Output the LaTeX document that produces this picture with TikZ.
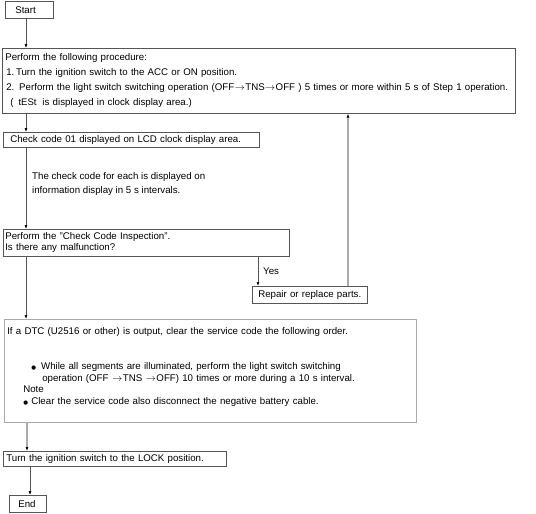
\documentclass[tikz,border=0pt]{standalone}
\usepackage{fontspec}
\setmainfont{Liberation Sans}
\newfontfamily\symfont{DejaVu Sans}
\usetikzlibrary{arrows.meta}
\definecolor{boxline}{HTML}{555555}
\definecolor{lightline}{HTML}{AAAAAA}
\newcommand{\bigdot}{{\symfont\fontsize{5.5}{6}\selectfont\raisebox{0.6pt}{●}}}
\newcommand{\rarr}{\kern0.5pt$\rightarrow$\kern0.5pt}
\tikzset{
  box/.style={draw=boxline, line width=0.6pt, rectangle, anchor=north west, inner xsep=0pt, inner ysep=0pt, align=left, font=\fontsize{9.7}{11}\selectfont},
  lbl/.style={inner sep=0pt, align=left, font=\fontsize{9.7}{13.3}\selectfont},
  arr/.style={draw=boxline, line width=0.6pt, -{Latex[length=4pt,width=3pt,color=black]}},
  grayarr/.style={draw=lightline, line width=1.2pt, -{Latex[length=4pt,width=3pt,color=black]}}
}
\begin{document}
\begin{tikzpicture}[x=1pt,y=-1pt]
\useasboundingbox (0,0) rectangle (536,514);
\node[box, minimum width=48pt, minimum height=17pt, text width=48pt] (start) at (5,1) {\hspace*{10pt}Start};
\node[box, minimum width=513pt, minimum height=65pt, text width=511pt, font=\fontsize{9.7}{15}\selectfont] (proc) at (2,48)
 {\hspace*{2pt}Perform the following procedure:\\
  \hspace*{3pt}1.\,Turn the ignition switch to the ACC or ON position.\\
  \hspace*{3pt}2. Perform the light switch switching operation (OFF\rarr TNS\rarr OFF ) 5 times or more within 5 s of Step 1 operation.\\
  \hspace*{7pt}(\hspace{5pt}{\fontsize{9.5}{9}\selectfont tESt}\hspace{6pt}is displayed in clock display area.)};
\node[box, minimum width=256pt, minimum height=15pt, text width=256pt] (check) at (3,132)
 {\hspace*{7pt}Check code 01 displayed on LCD clock display area.};
\node[lbl, anchor=north west] (info) at (32,172.5)
 {The check code for each is displayed on\\information display in 5 s intervals.};
\node[box, minimum width=286pt, minimum height=27pt, text width=286pt] (cci) at (3,229)
 {\hspace*{2pt}Perform the "Check Code Inspection".\\\hspace*{2pt}Is there any malfunction?\\[-9pt]\mbox{}};
\node[box, minimum width=115pt, minimum height=17pt, text width=115pt] (repair) at (252,286)
 {\hspace*{6pt}Repair or replace parts.};
\node[box, draw=lightline, minimum width=412pt, minimum height=103pt, text width=412pt, font=\fontsize{9.7}{12}\selectfont] (dtc) at (4,319)
 {\hspace*{3pt}If a DTC (U2516 or other) is output, clear the service code the following order.\\[23pt]
  \hspace*{27pt}\bigdot\hspace{5pt}While all segments are illuminated, perform the light switch switching\\
  \hspace*{38pt}operation (OFF \rarr TNS \rarr OFF) 10 times or more during a 10 s interval.\\[-1pt]
  \hspace*{19pt}Note\\
  \hspace*{19pt}\bigdot\ Clear the service code also disconnect the negative battery cable.\\[-3pt]\mbox{}};
\node[box, minimum width=223pt, minimum height=15pt, text width=223pt] (lock) at (3,451)
 {\hspace*{3pt}Turn the ignition switch to the LOCK position.};
\node[box, minimum width=37pt, minimum height=17pt, text width=37pt] (end) at (9,495)
 {\hspace*{9pt}End};
\node[lbl, anchor=west] (yes) at (263,271) {Yes};

\coordinate (xa) at (26,0);
\coordinate (xb) at (27,0);
\coordinate (xc) at (30,0);
\coordinate (xy) at (258,0);
\coordinate (xf) at (348,0);

\draw[arr] (start.south -| xa) -- (proc.north -| xa);
\draw[arr] (proc.south -| xa) -- (check.north -| xa);
\draw[arr] (check.south -| xa) -- (cci.north -| xa);
\draw[arr] (cci.south -| xa) -- (dtc.north -| xa);
\draw[arr] (cci.south -| xy) -- (repair.north -| xy);
\draw[grayarr] (repair.north -| xf) -- (proc.south -| xf);
\draw[grayarr] (dtc.south -| xb) -- (lock.north -| xb);
\draw[arr] (lock.south -| xc) -- (end.north -| xc);
\end{tikzpicture}
\end{document}
